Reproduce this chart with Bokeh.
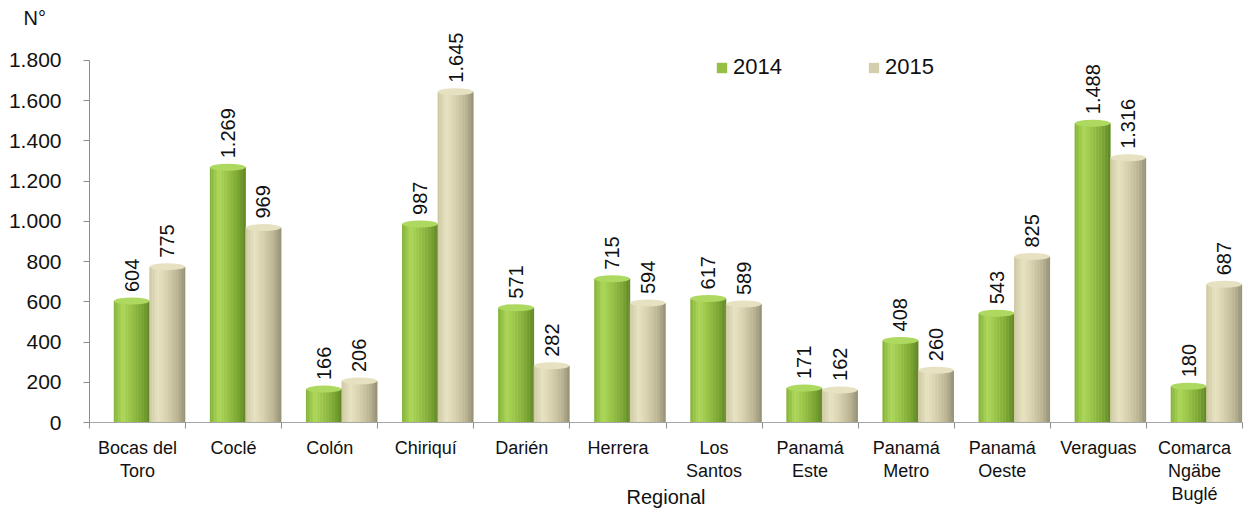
import numpy as np
from bokeh.plotting import figure
from bokeh.models import ColumnDataSource, FixedTicker, Range1d, Legend, LegendItem, Title
from bokeh.core.properties import value
from bokeh.embed import file_html
from bokeh.resources import INLINE

# ---- data ----
regions = ["Bocas del\nToro", "Coclé", "Colón", "Chiriquí", "Darién", "Herrera",
           "Los\nSantos", "Panamá\nEste", "Panamá\nMetro", "Panamá\nOeste",
           "Veraguas", "Comarca\nNgäbe\nBuglé"]
values_2014 = [604, 1269, 166, 987, 571, 715, 617, 171, 408, 543, 1488, 180]
values_2015 = [775, 969, 206, 1645, 282, 594, 589, 162, 260, 825, 1316, 687]
series_names = ["2014", "2015"]
y_ticks = [0, 200, 400, 600, 800, 1000, 1200, 1400, 1600, 1800]
y_tick_labels = ["0", "200", "400", "600", "800", "1.000", "1.200", "1.400", "1.600", "1.800"]
x_title = "Regional"
y_title = "N°"

FONT = "Liberation Sans"

def fmt(v):
    return f"{v:,}".replace(",", ".")

def ramp(stops, n):
    # stops: list of (position 0..1, hex colour); returns n interpolated colours
    pos = np.array([s[0] for s in stops])
    rgb = np.array([[int(c[1][k:k + 2], 16) for k in (1, 3, 5)] for c in stops], dtype=float)
    out = []
    for t in (np.arange(n) + 0.5) / n:
        col = [np.interp(t, pos, rgb[:, j]) for j in range(3)]
        out.append("#%02x%02x%02x" % tuple(int(round(c)) for c in col))
    return out

idx = np.arange(len(regions))

p = figure(width=1246, height=518, output_backend="svg", toolbar_location=None,
           x_range=Range1d(-0.5, len(regions) - 0.5), y_range=Range1d(0, 1959),
           min_border_left=89, min_border_right=4, min_border_top=28, min_border_bottom=96)
p.outline_line_color = None
p.xgrid.visible = False
p.ygrid.visible = False
p.background_fill_color = "white"

p.title = Title(text=y_title, align="left", offset=-66, text_font_size="20px",
                text_font=FONT, text_font_style="normal", text_color="#111111", standoff=0)

BAR_W = 0.37
N_STRIPES = 24
green_ramp = ramp([(0.0, "#84b238"), (0.25, "#acd758"), (0.5, "#98c246"),
                   (0.8, "#7aa532"), (1.0, "#5f8724")], N_STRIPES)
beige_ramp = ramp([(0.0, "#cdc7a1"), (0.25, "#e7e2c1"), (0.5, "#d6d0ae"),
                   (0.8, "#b9b393"), (1.0, "#958f74")], N_STRIPES)
cap_colors = ["#aed960", "#e6e1c0"]
offsets = [-0.06, 0.31]
ramps = [green_ramp, beige_ramp]
series_vals = [values_2014, values_2015]

legend_renderers = []
sw = BAR_W / N_STRIPES
for s in range(2):
    vals = series_vals[s]
    for i in range(N_STRIPES):
        src = ColumnDataSource(dict(x=idx + offsets[s] - BAR_W / 2 + (i + 0.5) * sw, top=vals))
        r = p.vbar(x="x", top="top", bottom=0, width=sw * 1.3, source=src,
                   fill_color=ramps[s][i], line_color=None)
        if i == N_STRIPES // 2:
            legend_renderers.append(r)
    csrc = ColumnDataSource(dict(x=idx + offsets[s], y=vals))
    p.ellipse(x="x", y="y", width=BAR_W, height=7, height_units="screen", source=csrc,
              fill_color=cap_colors[s], line_color=None)
    lsrc = ColumnDataSource(dict(x=idx + offsets[s], y=vals, t=[fmt(v) for v in vals]))
    p.text(x="x", y="y", text="t", source=lsrc, angle=np.pi / 2, text_align="left",
           text_baseline="middle", x_offset=0, y_offset=-9,
           text_font=value(FONT), text_font_size="20px", text_color="#111111")

legend = Legend(items=[LegendItem(label=series_names[k], renderers=[legend_renderers[k]])
                       for k in range(2)],
                orientation="horizontal", location=(626, 342),
                glyph_width=13, glyph_height=13, label_standoff=5, spacing=85,
                padding=0, margin=0, border_line_color=None, background_fill_alpha=0,
                label_text_font=FONT, label_text_font_size="22px", label_text_color="#111111")
p.add_layout(legend, "center")

# y axis
p.yaxis.ticker = FixedTicker(ticks=y_ticks)
p.yaxis.bounds = (0, 1800)
p.yaxis.major_label_overrides = {t: l for t, l in zip(y_ticks, y_tick_labels)}
p.yaxis.minor_tick_line_color = None
p.yaxis.major_tick_in = 0
p.yaxis.major_tick_out = 6
p.yaxis.axis_line_color = "#8c8c8c"
p.yaxis.major_tick_line_color = "#8c8c8c"
p.yaxis.major_label_text_font = FONT
p.yaxis.major_label_text_font_size = "21px"
p.yaxis.major_label_text_color = "#111111"
p.yaxis.major_label_standoff = 22

# x axis
p.xaxis.ticker = FixedTicker(ticks=list(idx), minor_ticks=[i - 0.5 for i in range(len(regions) + 1)])
p.xaxis.major_label_overrides = {int(i): regions[i] for i in idx}
p.xaxis.major_tick_line_color = None
p.xaxis.major_tick_in = 0
p.xaxis.major_tick_out = 0
p.xaxis.minor_tick_in = 0
p.xaxis.minor_tick_out = 6
p.xaxis.minor_tick_line_color = "#8c8c8c"
p.xaxis.axis_line_color = "#a6a6a6"
p.xaxis.major_label_text_font = FONT
p.xaxis.major_label_text_font_size = "18px"
p.xaxis.major_label_text_color = "#111111"
p.xaxis.major_label_text_line_height = 1.17
p.xaxis.major_label_standoff = 9
p.xaxis.axis_label = x_title
p.xaxis.axis_label_text_font = FONT
p.xaxis.axis_label_text_font_size = "20px"
p.xaxis.axis_label_text_font_style = "normal"
p.xaxis.axis_label_text_color = "#111111"
p.xaxis.axis_label_standoff = -21

open("out.html", "w").write(file_html(p, INLINE))
